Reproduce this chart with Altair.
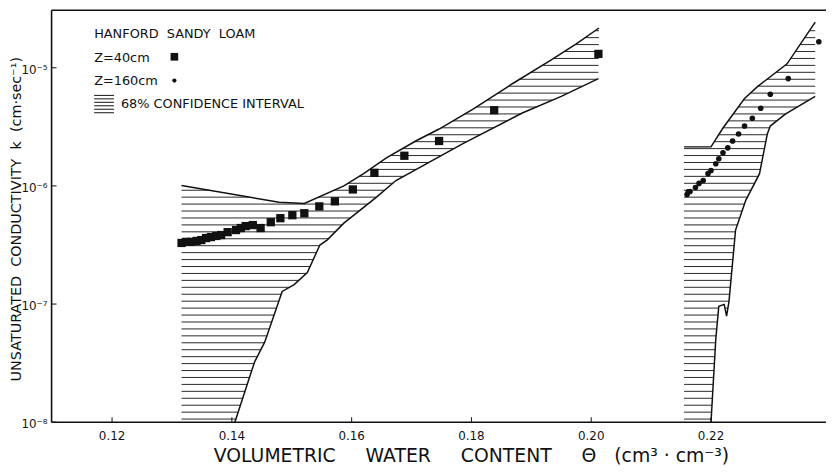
import altair as alt
import numpy as np
import pandas as pd

# ---------------- data ----------------
# 68% confidence band, Z = 40 cm
band40_upper_theta = [0.1316, 0.1479, 0.1521, 0.1587, 0.1620, 0.1658, 0.1707, 0.1746, 0.1802, 0.1869, 0.1934, 0.1975, 0.2013]
band40_upper_k = [1.01e-6, 7.26e-7, 7.1e-7, 1.0e-6, 1.27e-6, 1.73e-6, 2.4e-6, 3.03e-6, 4.45e-6, 7.36e-6, 1.17e-5, 1.59e-5, 2.17e-5]
band40_lower_theta = [0.1405, 0.1438, 0.1455, 0.1484, 0.1504, 0.1526, 0.1547, 0.1559, 0.1587, 0.1641, 0.1674, 0.1785, 0.1884, 0.1950, 0.2012]
band40_lower_k = [1.0e-8, 3.24e-8, 4.78e-8, 1.28e-7, 1.46e-7, 1.85e-7, 3.16e-7, 3.48e-7, 4.84e-7, 8.0e-7, 1.11e-6, 2.27e-6, 4.12e-6, 5.73e-6, 8.1e-6]

# 68% confidence band, Z = 160 cm
band160_upper_theta = [0.2155, 0.2200, 0.2220, 0.2256, 0.2278, 0.2327, 0.2374]
band160_upper_k = [2.14e-6, 2.14e-6, 3.09e-6, 5.5e-6, 6.95e-6, 1.08e-5, 2.43e-5]
band160_lower_theta = [0.2200, 0.2208, 0.2213, 0.2222, 0.2226, 0.2230, 0.2236, 0.2241, 0.2258, 0.2281, 0.2294, 0.2299, 0.2324, 0.2374]
band160_lower_k = [1.0e-8, 5.06e-8, 9.57e-8, 9.93e-8, 7.89e-8, 1.05e-7, 2.24e-7, 4.23e-7, 7.55e-7, 1.27e-6, 2.75e-6, 3.21e-6, 4.05e-6, 5.73e-6]

# measured points
z40_theta = [0.1316, 0.1324, 0.1332, 0.1341, 0.1349, 0.1357, 0.1365, 0.1374, 0.1382, 0.1393, 0.1407, 0.1415,
             0.1423, 0.1435, 0.1448, 0.1465, 0.1481, 0.1501, 0.1521, 0.1546, 0.1572, 0.1602, 0.1638, 0.1688,
             0.1746, 0.1838, 0.2012]
z40_k = [3.29e-7, 3.36e-7, 3.36e-7, 3.42e-7, 3.48e-7, 3.62e-7, 3.69e-7, 3.77e-7, 3.84e-7, 4.06e-7, 4.23e-7, 4.40e-7,
         4.57e-7, 4.66e-7, 4.40e-7, 4.93e-7, 5.33e-7, 5.65e-7, 5.87e-7, 6.71e-7, 7.40e-7, 9.33e-7, 1.29e-6, 1.80e-6,
         2.40e-6, 4.37e-6, 1.31e-5]
z160_theta = [0.2160, 0.2162, 0.2165, 0.2174, 0.2180, 0.2187, 0.2195, 0.2200, 0.2208, 0.2213, 0.2220, 0.2228,
              0.2236, 0.2246, 0.2256, 0.2269, 0.2283, 0.2299, 0.2329, 0.2380]
z160_k = [8.47e-7, 8.9e-7, 8.97e-7, 9.7e-7, 1.05e-6, 1.11e-6, 1.27e-6, 1.35e-6, 1.54e-6, 1.70e-6, 1.91e-6, 2.10e-6,
          2.40e-6, 2.75e-6, 3.21e-6, 3.74e-6, 4.54e-6, 5.96e-6, 8.1e-6, 1.66e-5]

x_ticks = [0.12, 0.14, 0.16, 0.18, 0.20, 0.22]
x_tick_labels = ["0.12", "0.14", "0.16", "0.18", "0.20", "0.22"]
y_ticks = [1e-8, 1e-7, 1e-6, 1e-5]
y_tick_labels = ["10\u207b\u2078", "10\u207b\u2077", "10\u207b\u2076", "10\u207b\u2075"]
x_domain = [0.1099, 0.2392]
y_domain = [1e-8, 10 ** -4.513]

legend_title = "HANFORD\u00a0 SANDY\u00a0 LOAM"
legend_z40 = "Z=40cm"
legend_z160 = "Z=160cm"
legend_band = "68% CONFIDENCE INTERVAL"
SP = "\u00a0" * 5
x_title = "VOLUMETRIC" + SP + "WATER" + SP + "CONTENT" + SP + "\u0398" + "\u00a0" * 3 + "(cm\u00b3\u00a0\u00b7\u00a0cm\u207b\u00b3)"
y_title = "UNSATURATED\u00a0\u00a0CONDUCTIVITY\u00a0\u00a0k\u00a0\u00a0(cm\u00b7sec\u207b\u00b9)"

# ---------------- helpers ----------------
FONT = "DejaVu Sans"
INK = "#111111"
W, H = 782, 416
HATCH_STEP = 0.0587  # decades between hatch lines


def band_polygon(ut, uk, lt, lk):
    pt = [ut[0]] + list(ut) + list(lt[::-1])
    pk = [np.log10(lk[0])] + list(np.log10(uk)) + list(np.log10(lk[::-1]))
    return pt, pk


def hatch_segments(pt, pk, top):
    rows = []
    n = len(pt)
    for lv in np.arange(-8 + HATCH_STEP * 0.45, top, HATCH_STEP):
        xs_ = []
        for i in range(n):
            t1, y1 = pt[i], pk[i]
            t2, y2 = pt[(i + 1) % n], pk[(i + 1) % n]
            if (y1 <= lv < y2) or (y2 <= lv < y1):
                xs_.append(t1 + (lv - y1) * (t2 - t1) / (y2 - y1))
        xs_.sort()
        for a, b in zip(xs_[0::2], xs_[1::2]):
            rows.append({"theta": a, "theta2": b, "k": 10 ** lv})
    return rows


p40 = band_polygon(band40_upper_theta, band40_upper_k, band40_lower_theta, band40_lower_k)
p160 = band_polygon(band160_upper_theta, band160_upper_k, band160_lower_theta, band160_lower_k)
hatch = pd.DataFrame(hatch_segments(*p40, np.log10(max(band40_upper_k)))
                     + hatch_segments(*p160, np.log10(max(band160_upper_k))))

lines = []
for name, t, k in [("u40", band40_upper_theta, band40_upper_k), ("l40", band40_lower_theta, band40_lower_k),
                   ("u160", band160_upper_theta, band160_upper_k), ("l160", band160_lower_theta, band160_lower_k)]:
    for i, (a, b) in enumerate(zip(t, k)):
        lines.append({"line": name, "i": i, "theta": a, "k": b})
lines = pd.DataFrame(lines)

pts40 = pd.DataFrame({"theta": z40_theta, "k": z40_k})
pts160 = pd.DataFrame({"theta": z160_theta, "k": z160_k})
xtick_df = pd.DataFrame({"theta": x_ticks, "label": x_tick_labels})
ytick_df = pd.DataFrame({"k": y_ticks, "label": y_tick_labels})

xs = alt.Scale(domain=x_domain, nice=False, zero=False)
ys = alt.Scale(type="log", domain=y_domain, nice=False)
X = alt.X("theta:Q", scale=xs, axis=None)
Y = alt.Y("k:Q", scale=ys, axis=None)
one = pd.DataFrame({"a": [0]})

hatch_layer = alt.Chart(hatch).mark_rule(color=INK, strokeWidth=0.9).encode(x=X, x2="theta2:Q", y=Y)
outline = alt.Chart(lines).mark_line(color=INK, strokeWidth=1.5).encode(x=X, y=Y, detail="line:N", order="i:Q")
sq = alt.Chart(pts40).mark_square(size=70, color=INK, opacity=1).encode(x=X, y=Y)
dots = alt.Chart(pts160).mark_circle(size=32, color=INK, opacity=1).encode(x=X, y=Y)

# frame / axes drawn by hand
left_axis = alt.Chart(one).mark_rule(color=INK, strokeWidth=1.6).encode(
    x=alt.value(0), y=alt.value(0), y2=alt.value(H))
bottom_axis = alt.Chart(one).mark_rule(color=INK, strokeWidth=1.6).encode(
    x=alt.value(0), x2=alt.value(W), y=alt.value(H))
top_border = alt.Chart(one).mark_rule(color=INK, strokeWidth=1.6).encode(
    x=alt.value(0), x2=alt.value(W), y=alt.value(0))
xt = alt.Chart(xtick_df).mark_rule(color=INK, strokeWidth=1).encode(x=X, y=alt.value(H), y2=alt.value(H - 5))
yt = alt.Chart(ytick_df).mark_rule(color=INK, strokeWidth=1).encode(y=Y, x=alt.value(0), x2=alt.value(5))
xl = alt.Chart(xtick_df).mark_text(font=FONT, fontSize=12, color=INK, baseline="alphabetic").encode(
    x=X, y=alt.value(H + 18), text="label:N")
yl = alt.Chart(ytick_df).mark_text(font=FONT, fontSize=12, color=INK, align="right", baseline="middle", dy=2).encode(
    y=Y, x=alt.value(-4), text="label:N")
xtitle = alt.Chart(one).mark_text(font=FONT, fontSize=19, color=INK, align="center", baseline="alphabetic").encode(
    x=alt.value(424), y=alt.value(H + 40), text=alt.value(x_title))
ytitle = alt.Chart(one).mark_text(font=FONT, fontSize=14.5, color=INK, align="center", baseline="alphabetic",
                                  angle=270).encode(
    x=alt.value(-31), y=alt.value(211), text=alt.value(y_title))

# legend (annotation)
legend_layers = []
for label, px, py in [(legend_title, 43, 28), (legend_z40, 43, 52), (legend_z160, 43, 76), (legend_band, 70, 99)]:
    legend_layers.append(alt.Chart(one).mark_text(font=FONT, fontSize=13, color=INK, align="left",
                                                  baseline="alphabetic").encode(
        x=alt.value(px), y=alt.value(py), text=alt.value(label)))
legend_layers.append(alt.Chart(one).mark_square(size=60, color=INK, opacity=1).encode(
    x=alt.value(124), y=alt.value(47)))
legend_layers.append(alt.Chart(one).mark_circle(size=18, color=INK, opacity=1).encode(
    x=alt.value(124), y=alt.value(71)))
for py in [86, 89.5, 93, 96.5, 100, 103.5]:
    legend_layers.append(alt.Chart(one).mark_rule(color=INK, strokeWidth=1).encode(
        x=alt.value(43), x2=alt.value(63), y=alt.value(py)))

chart = alt.layer(hatch_layer, outline, sq, dots, left_axis, bottom_axis, top_border, xt, yt, xl, yl,
                  xtitle, ytitle, *legend_layers).properties(
    width=W, height=H,
    background="white",
    autosize=alt.AutoSizeParams(type="none"),
    padding={"left": 44, "top": 0, "right": 0, "bottom": 44},
).configure_view(stroke=None)

chart.save("out.html", embed_options={"renderer": "svg", "actions": False})
